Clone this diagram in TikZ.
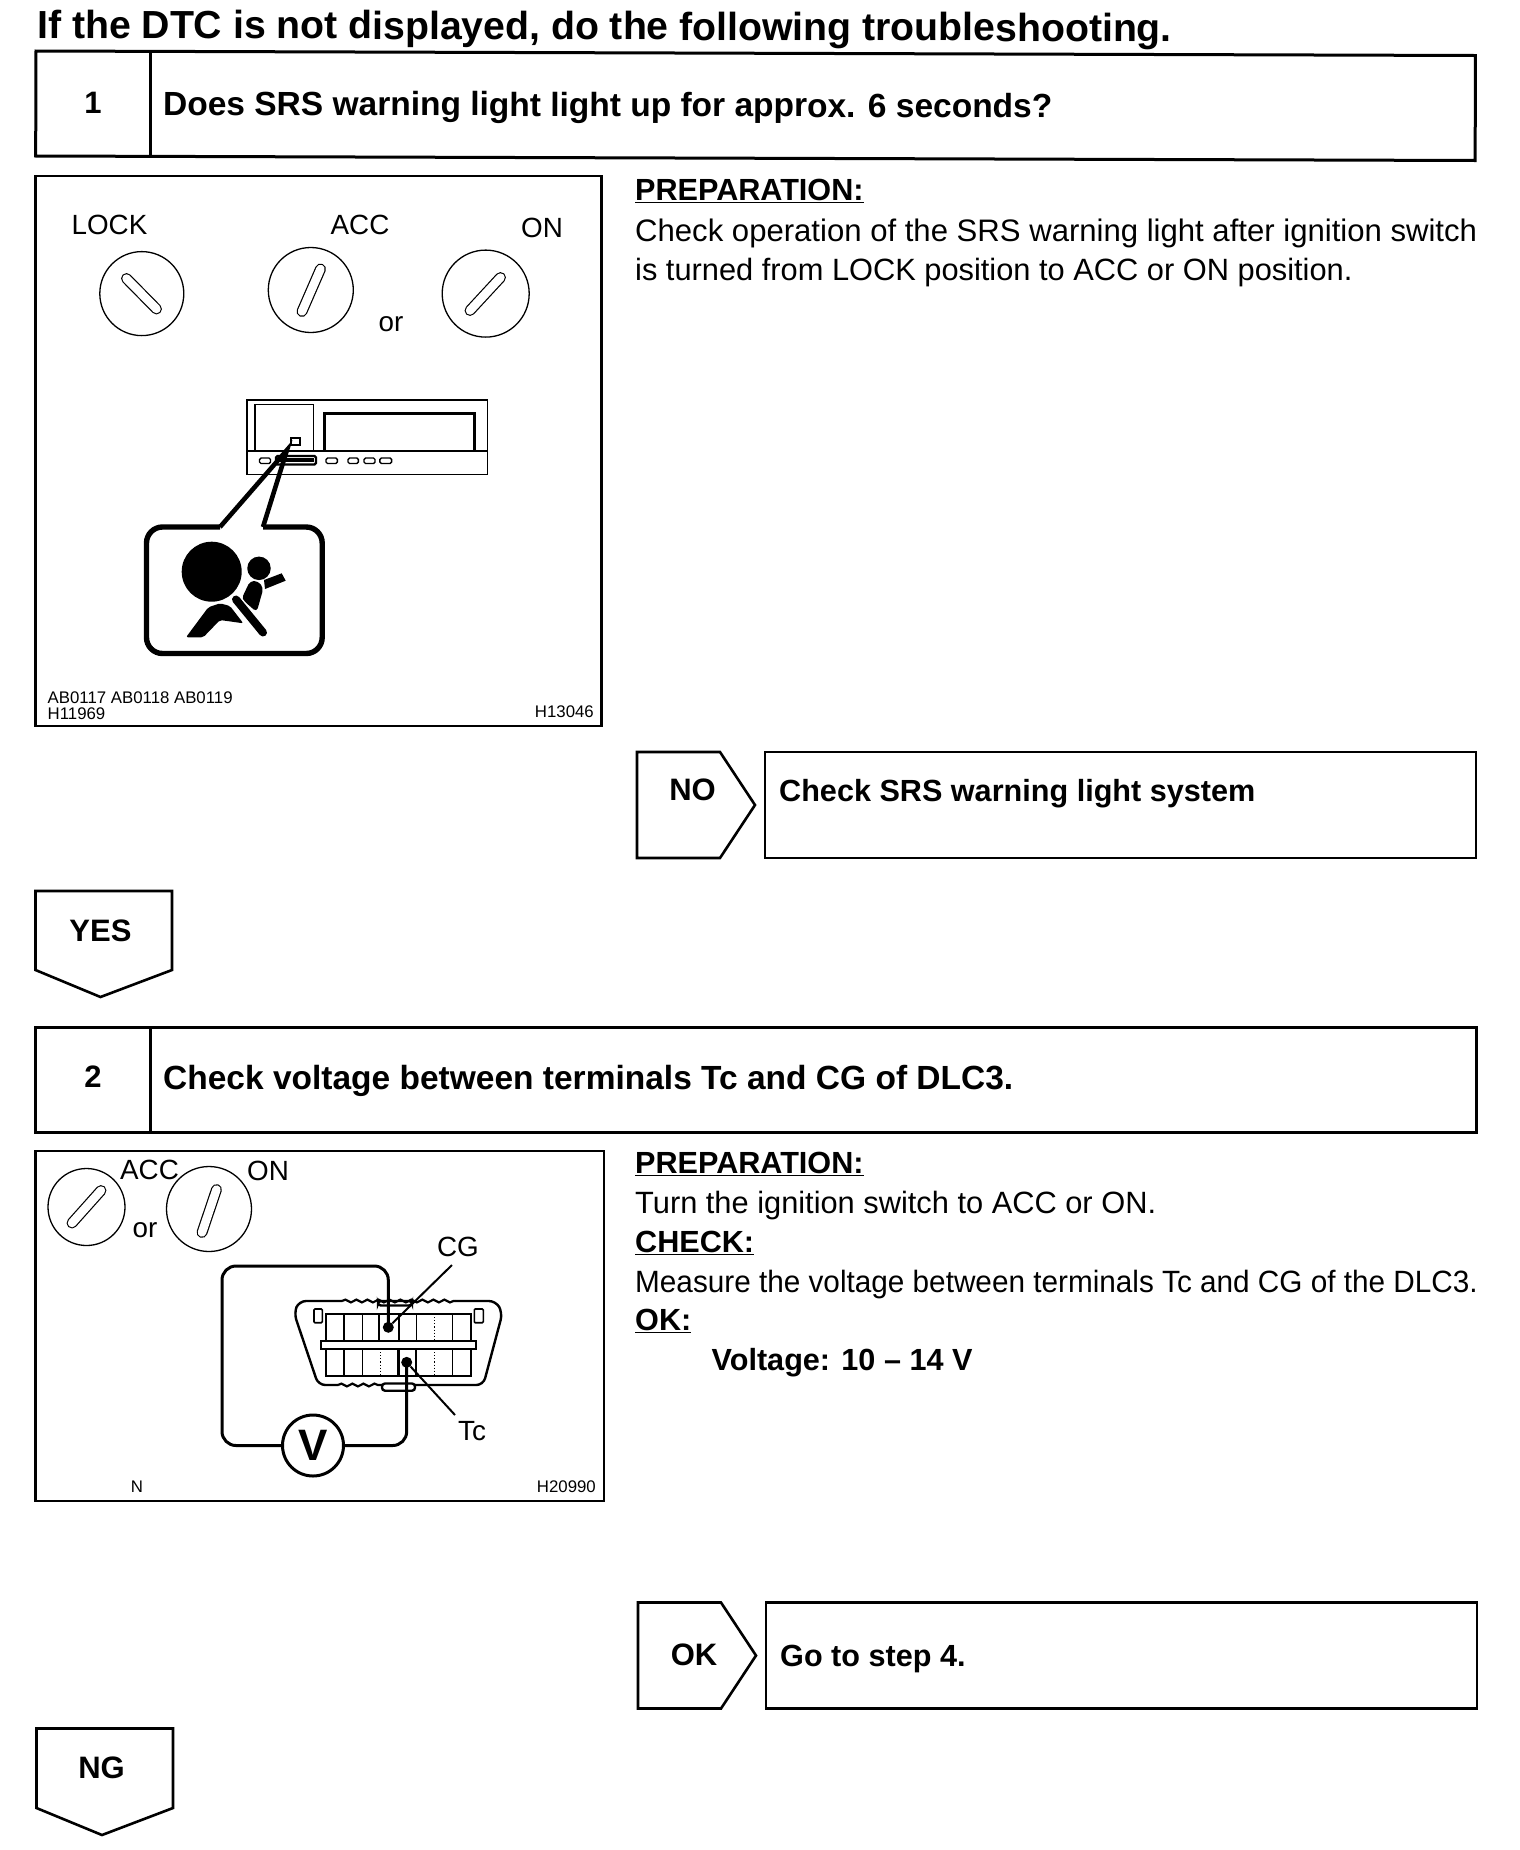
\documentclass[tikz,border=0pt]{standalone}
\usepackage{fontspec}
\setmainfont{Liberation Sans}
\usetikzlibrary{decorations.pathmorphing,calc}
\newcommand{\fs}[1]{\fontsize{#1}{#1}\selectfont}
\tikzset{
  x=1pt,y=-1pt,
  frame/.style={draw=black,line width=3pt,inner sep=0pt,outer sep=0pt,anchor=north west},
  head/.style={font=\fs{33.5}\bfseries,anchor=base west,inner sep=0pt},
  num/.style={font=\fs{31}\bfseries,anchor=center,inner sep=0pt},
  body/.style={font=\fs{30.8},anchor=base west,inner sep=0pt},
  sechead/.style={font=\fs{30.6}\bfseries,anchor=base west,inner sep=0pt},
  lab/.style={font=\fs{27.8},anchor=center,inner sep=0pt},
  code/.style={font=\fs{16.8},inner sep=0pt},
  dial/.style={circle,draw=black,line width=1.3pt,inner sep=0pt,minimum size=#1},
  pentline/.style={line width=2.6pt,line join=miter},
  pentlabel/.style={font=\fs{31}\bfseries,inner sep=0pt},
  btn/.style={draw=black,line width=1.4pt,rounded corners=1.5pt},
  wire/.style={line width=3pt,rounded corners=14pt},
  leader/.style={line width=2pt},
  term/.style={circle,fill=black,inner sep=0pt,minimum size=11pt},
  cellthin/.style={line width=1.3pt},
  cellthick/.style={line width=2.6pt},
  celldot/.style={line width=1.1pt,dotted},
  shell/.style={line width=2.4pt},
  wavy/.style={line width=2.2pt,decorate,decoration={snake,amplitude=1.4pt,segment length=11pt}},
}
\newcommand{\slotline}[3]{%
  \draw[line width=#3+2.4pt,line cap=round,black] #1 -- #2;
  \draw[line width=#3,line cap=round,white] #1 -- #2;}
\begin{document}
\begin{tikzpicture}
\useasboundingbox (0,0) rectangle (1520,1850);
\fill[white] (0,0) rectangle (1520,1850);

\node[font=\fs{39.2}\bfseries,anchor=base west,inner sep=0pt,rotate=-0.18] (title) at (37,38) {If the DTC is not displayed, do the following troubleshooting.};

% Step 1
\node[frame,minimum width=1439.5pt,minimum height=105pt,rotate=-0.18] (box1) at (36,51) {};
\draw[line width=3pt] (150,51.4) -- (150,156.4);
\node[num] (n1) at (93,103) {1};
\node[head,rotate=-0.18] (t1) at (163,115) {Does SRS warning light light up for approx. 6 seconds?};

\node[frame,line width=2.6pt,minimum width=566pt,minimum height=550pt] (pic1) at (35.5,176) {};
\node[lab] (lock) at (109.5,224.5) {LOCK};
\node[lab] (acc1) at (360,225) {ACC};
\node[lab] (on1) at (542,228) {ON};
\node[lab] (or1) at (391,324) {or};
\node[dial=84pt] (dl) at (141.8,293.6) {};
\node[dial=85pt] (da) at (310.8,290) {};
\node[dial=87pt] (do) at (485.7,293.6) {};
\slotline{(126.5,278.5)}{(156.5,309)}{8.5pt}
\slotline{(320.5,269)}{(302,311.5)}{8.5pt}
\slotline{(500.5,277.5)}{(470,310.5)}{8.5pt}

% cluster
\draw[line width=1.8pt] (246.6,400) rectangle (487.5,474.5);
\draw[line width=1.8pt] (246.6,451) -- (487.5,451);
\draw[line width=1.6pt] (255,451) -- (255,404.6) -- (313.4,404.6) -- (313.4,451);
\draw[line width=2.6pt] (324.4,451) -- (324.4,413.7) -- (474.6,413.7) -- (474.6,451);
\node[draw=black,line width=2.4pt,minimum width=9pt,minimum height=7pt,inner sep=0pt] (lamp) at (295.6,441.4) {};
\draw[btn] (259.5,458) rectangle (270.5,463.5);
\draw[btn,line width=2.2pt] (276,456) rectangle (316,464.5);
\fill (278,458) rectangle (314,462);
\draw[btn] (326,458) rectangle (337.4,463.5);
\draw[btn] (348,458) rectangle (358.4,463.5);
\draw[btn] (364,458) rectangle (375,463.5);
\draw[btn] (379.8,458) rectangle (391.6,463.5);

% callout
\coordinate (ptip) at (287,450);
\coordinate (pl) at (220,527);
\coordinate (pr) at (263,527);
\draw[line width=5.4pt,rounded corners=16pt] (pl) -- (146.5,527) -- (146.5,653.5) -- (322.2,653.5) -- (322.2,527) -- (pr);
\draw[line width=4.6pt,line join=miter] (pl) -- (ptip) -- (pr);
\node[circle,fill=black,inner sep=0pt,minimum size=60pt] (bag) at (211.7,571.7) {};
\node[circle,fill=black,inner sep=0pt,minimum size=23.5pt] (headd) at (259,568.3) {};
\fill (264,580) -- (281.7,573.3) -- (285.7,580.7) -- (265,589) -- cycle;
\fill[rounded corners=4pt] (241.5,599) -- (250,581) -- (258,581) -- (263.5,588) -- (256.7,612) -- cycle;
\fill[rounded corners=2pt] (186,637.3) -- (208.3,607.3) -- (220,603.3) -- (230,606) -- (243.3,623.3) -- (220,620) -- (203.3,637.3) -- cycle;
\draw[white,line width=11pt] (235,598.3) -- (263.3,633.3);
\draw[line width=8pt,line cap=round] (236,599.5) -- (263,632.5);
\node[code,anchor=base west] (c1) at (47.5,703.5) {AB0117 AB0118 AB0119};
\node[code,anchor=base west] (c2) at (47.5,719) {H11969};
\node[code,anchor=base east] (c3) at (594,717.5) {H13046};

% Step 1 text
\node[sechead] (p1) at (635,200.5) {\underline{PREPARATION:}};
\node[body,font=\fs{31.1}] (l1) at (635,241) {Check operation of the SRS warning light after ignition switch};
\node[body] (l2) at (635,280) {is turned from LOCK position to ACC or ON position.};

% NO
\draw[pentline] (637,752) -- (720,752) -- (755,805) -- (720,858) -- (637,858) -- cycle;
\node[pentlabel] (no) at (692.5,790) {NO};
\node[frame,line width=2.6pt,minimum width=711pt,minimum height=106pt] (boxno) at (765,752) {};
\node[head,font=\fs{30.6}\bfseries] (tno) at (779,801) {Check SRS warning light system};

% YES
\draw[pentline] (35.5,891) -- (172,891) -- (172,970) -- (100.5,997) -- (35.5,970) -- cycle;
\node[pentlabel] (yes) at (100.5,931) {YES};

% Step 2
\node[frame,minimum width=1441pt,minimum height=105pt] (box2) at (35.5,1027) {};
\draw[line width=3pt] (150,1027) -- (150,1132);
\node[num] (n2) at (93,1077) {2};
\node[head] (t2) at (163,1089.5) {Check voltage between terminals Tc and CG of DLC3.};

\node[frame,line width=2.6pt,minimum width=568.5pt,minimum height=350pt] (pic2) at (35.5,1151) {};
\node[lab] (acc2) at (149.5,1170) {ACC};
\node[lab] (on2) at (268,1171) {ON};
\node[lab] (or2) at (145,1230) {or};
\node[dial=77pt] (da2) at (86.5,1207) {};
\node[dial=85pt] (do2) at (209,1209) {};
\slotline{(101,1190.5)}{(72,1223)}{8.5pt}
\slotline{(216.5,1189.5)}{(202,1232.5)}{8.5pt}
\node[lab] (cg) at (458,1247) {CG};
\node[lab] (tc) at (472,1431) {Tc};
\node[code,anchor=center] (nn) at (137,1487) {N};
\node[code,anchor=east] (c4) at (596,1487) {H20990};

% connector shell
\draw[shell,rounded corners=7pt] (342,1301) -- (299,1301) -- (294,1313) -- (318.3,1385) -- (338,1385);
\draw[wavy] (338,1385) -- (382,1385);
\draw[shell,rounded corners=3pt] (382,1383.5) rectangle (415,1390.7);
\draw[shell,rounded corners=7pt] (415,1385) -- (483.3,1385) -- (502.5,1313) -- (496,1301) -- (455,1301);
\draw[wavy] (342,1301) -- (455,1301);
\draw[shell,rounded corners=3pt] (378,1301) rectangle (412,1305.5);
\draw[line width=1.6pt,rounded corners=1pt] (314,1309) rectangle (322.3,1322.7);
\draw[line width=1.6pt,rounded corners=1pt] (474.3,1309) rectangle (483.3,1322.7);
% contact rows
\draw[line width=2.2pt] (325.7,1340.7) -- (325.7,1314) -- (470.7,1314) -- (470.7,1340.7);
\draw[line width=2.2pt] (325.7,1349) -- (325.7,1375.7) -- (470.7,1375.7) -- (470.7,1349);
\draw[line width=2pt,fill=white] (320.7,1340.7) rectangle (475.7,1349);
\foreach \xx in {344,362.3,416.7,452.3} \draw[cellthin] (\xx,1314) -- (\xx,1340.7);
\draw[celldot] (434.3,1314) -- (434.3,1340.7);
\foreach \xx in {379,399} \draw[cellthick] (\xx,1314) -- (\xx,1340.7);
\foreach \xx in {344,362.3,452.3} \draw[cellthin] (\xx,1349) -- (\xx,1375.7);
\draw[celldot] (380.7,1349) -- (380.7,1375.7);
\draw[celldot] (434.3,1349) -- (434.3,1375.7);
\foreach \xx in {398.3,416} \draw[cellthick] (\xx,1349) -- (\xx,1375.7);
\draw[cellthick] (379,1314) -- (399,1314);
\draw[cellthick] (398.3,1349) -- (416,1349);

% meter and wires
\node[term] (tcg) at (388.3,1327.3) {};
\node[term] (ttc) at (406.7,1362.3) {};
\node[circle,draw=black,line width=3pt,inner sep=0pt,minimum size=61pt,font=\fs{44}\bfseries] (vm) at (313,1445.5) {V};
\draw[wire] (tcg.center) -- (388.3,1266) -- (222,1266) -- (222,1445.5) -- (vm.west);
\draw[wire] (ttc.center) -- (406.7,1445.5) -- (vm.east);
\coordinate (cgend) at (452,1265);
\coordinate (tcend) at (455,1415);
\draw[leader] (cgend) -- (tcg);
\draw[leader] (tcend) -- (ttc);

% Step 2 text
\node[sechead] (p2) at (635,1173.2) {\underline{PREPARATION:}};
\node[body] (m1) at (635,1213.2) {Turn the ignition switch to ACC or ON.};
\node[sechead] (p3) at (635,1252.2) {\underline{CHECK:}};
\node[body] (m2) at (635,1292.2) {\scalebox{0.965}[1]{Measure the voltage between terminals Tc and CG of the DLC3.}};
\node[sechead] (p4) at (635,1330.2) {\underline{OK:}};
\node[sechead] (m3) at (711.5,1370.2) {Voltage: 10 -- 14 V};

% OK
\draw[pentline] (638,1602.5) -- (721,1602.5) -- (756,1655.5) -- (721,1708.5) -- (638,1708.5) -- cycle;
\node[pentlabel] (okl) at (694,1655) {OK};
\node[frame,line width=2.6pt,minimum width=711pt,minimum height=106pt] (boxok) at (766,1602.5) {};
\node[head,font=\fs{30.6}\bfseries] (tok) at (780,1666) {Go to step 4.};

% NG
\draw[pentline] (36.5,1728.5) -- (173,1728.5) -- (173,1808) -- (102,1835) -- (36.5,1808) -- cycle;
\node[pentlabel] (ngl) at (101.5,1768) {NG};
\end{tikzpicture}
\end{document}
